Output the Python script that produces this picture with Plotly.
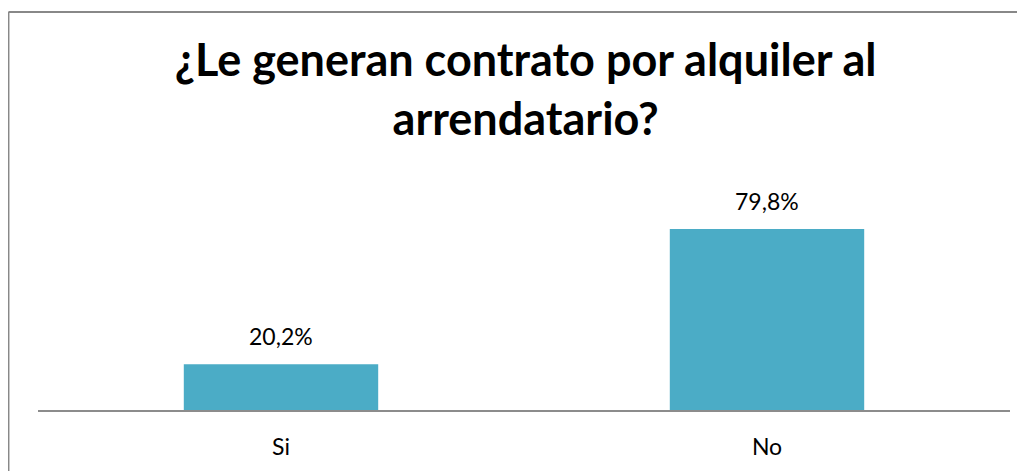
import plotly.graph_objects as go

# ── data ──────────────────────────────────────────────────────────────────────
categories = ["Si", "No"]
percentages = [20.2, 79.8]

title_text = "¿Le generan contrato por alquiler al<br>arrendatario?"

BAR_COLOR = "#4BACC6"
AXIS_COLOR = "#8C8C8C"
FONT = "Lato, 'Open Sans', sans-serif"


def _pct_label(v):
    # Spanish decimal comma
    return f"{v:.1f}".replace(".", ",") + "%"


fig = go.Figure(
    go.Bar(
        x=categories,
        y=percentages,
        width=0.4,
        marker=dict(color=BAR_COLOR, line=dict(width=0)),
        hoverinfo="skip",
    )
)

# value labels sit a little higher above the bars than plotly's own outside text
for cat, val in zip(categories, percentages):
    fig.add_annotation(
        x=cat, y=val, xref="x", yref="y",
        text=_pct_label(val), showarrow=False,
        yanchor="bottom", yshift=12,
        font=dict(family=FONT, size=23, color="#000000"),
    )

fig.update_layout(
    width=1025,
    height=471,
    title=dict(
        text=title_text,
        x=0.505,
        xanchor="center",
        y=0.855,
        yanchor="top",
        font=dict(family=FONT, size=45, color="#000000", weight="bold"),
    ),
    xaxis=dict(
        showgrid=False, zeroline=False,
        showline=True, linecolor=AXIS_COLOR, linewidth=1.5,
        ticks="", tickfont=dict(family=FONT, size=23, color="#000000"),
        ticklabelstandoff=16,
    ),
    yaxis=dict(
        range=[0, 97],
        showgrid=False, zeroline=False, showline=False,
        showticklabels=False,
    ),
    plot_bgcolor="white",
    paper_bgcolor="white",
    margin=dict(l=30, r=23, t=182, b=69),
    showlegend=False,
    shapes=[
        # outer chart border (only top and left edges show)
        dict(type="line", xref="paper", yref="paper",
             x0=-0.0304, x1=1.03, y0=1.809, y1=1.809,
             line=dict(color="#888888", width=2)),
        dict(type="line", xref="paper", yref="paper",
             x0=-0.0304, x1=-0.0304, y0=1.809, y1=-0.32,
             line=dict(color="#888888", width=2)),
    ],
)

fig.write_html("out.html")
